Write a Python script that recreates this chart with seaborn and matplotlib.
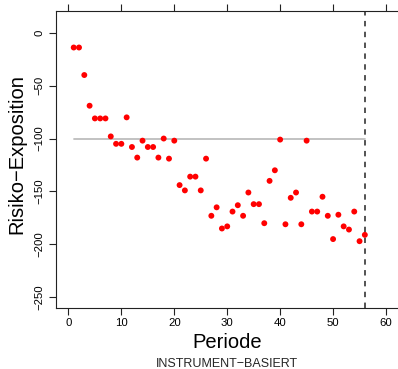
import matplotlib
matplotlib.use("Agg")
import matplotlib.pyplot as plt
import numpy as np
import pandas as pd
import seaborn as sns

# values
periode = list(range(1, 57))
risiko = [-14, -14, -40, -69, -81, -81, -81, -98, -105, -105,
          -80, -108, -118, -102, -108, -108, -118, -100, -119, -102,
          -144, -149, -136, -136, -149, -119, -173, -165, -185, -183,
          -169, -163, -173, -151, -162, -162, -180, -140, -130, -101,
          -181, -156, -151, -181, -102, -169, -169, -155, -173, -195,
          -172, -183, -186, -169, -197, -191]
ref_level = -100
cut_period = 56
x_ticks = [0, 10, 20, 30, 40, 50, 60]
y_ticks = [0, -50, -100, -150, -200, -250]

df = pd.DataFrame({"Periode": periode, "Risiko": risiko})

sns.set_style("ticks")
plt.rcParams["font.family"] = ["Liberation Sans", "DejaVu Sans"]

fig = plt.figure(figsize=(3.98, 3.69), dpi=100)
ax = fig.add_axes([0.140, 0.1645, 0.8618, 0.8057])

# reference line and cut-off
ax.plot([periode[0], periode[-1]], [ref_level, ref_level], color="#bdbdbd", lw=1.3, zorder=1)
ax.axvline(cut_period, color="#444444", lw=1.3, ls=(0, (3, 3)), zorder=1)

sns.scatterplot(data=df, x="Periode", y="Risiko", color="#ff0000", s=18,
                edgecolor="none", ax=ax, zorder=3)

ax.set_xlim(-2.4, 62.4)
ax.set_ylim(-260.4, 20.5)
ax.set_xticks(x_ticks)
ax.set_yticks(y_ticks)
ax.set_yticklabels([str(v).replace("-", "\u2212") for v in y_ticks])

for s in ax.spines.values():
    s.set_visible(True)
    s.set_linewidth(0.8)
    s.set_color("#222222")

ax.tick_params(axis="both", length=5, width=0.8, color="#222222", labelsize=8.2,
               labelcolor="black")
ax.tick_params(axis="x", top=True, labeltop=False, pad=2.2)
ax.tick_params(axis="y", labelrotation=90, pad=3.3)
for lab in ax.get_yticklabels():
    lab.set_va("center")

ax.set_xlabel("Periode", fontsize=14.5, color="black")
ax.set_ylabel("Risiko\u2212Exposition", fontsize=14.5, color="black")
ax.xaxis.label.set_va("center")
ax.yaxis.label.set_va("center")
ax.xaxis.set_label_coords(0.5, -0.1157)
ax.yaxis.set_label_coords(-0.1128, 0.52)

fig.text(0.5 * (0.140 + 1.0018), 1 - 364 / 369, "INSTRUMENT\u2212BASIERT",
         ha="center", va="center", fontsize=9)

fig.savefig("out.png", dpi=100)
